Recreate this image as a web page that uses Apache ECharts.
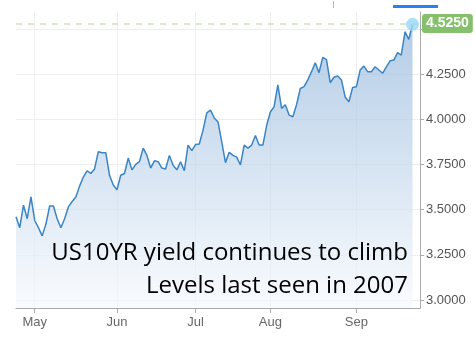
<!DOCTYPE html>
<html>
<head>
<meta charset="utf-8">
<title>US10YR</title>
<script src="https://cdn.jsdelivr.net/npm/echarts@6/dist/echarts.min.js"></script>
<style>
  html, body { margin: 0; padding: 0; background: #fff; }
  #chart { width: 476px; height: 340px; }
</style>
</head>
<body>
<div id="chart"></div>
<script>
  // trading days on the chart (2023)
  var dates = [
    '2023-04-24','2023-04-25','2023-04-26','2023-04-27','2023-04-28',
    '2023-05-01','2023-05-02','2023-05-03','2023-05-04','2023-05-05','2023-05-08','2023-05-09','2023-05-10','2023-05-11','2023-05-12',
    '2023-05-15','2023-05-16','2023-05-17','2023-05-18','2023-05-19','2023-05-22','2023-05-23','2023-05-24','2023-05-25','2023-05-26',
    '2023-05-30','2023-05-31',
    '2023-06-01','2023-06-02','2023-06-05','2023-06-06','2023-06-07','2023-06-08','2023-06-09','2023-06-12','2023-06-13','2023-06-14',
    '2023-06-15','2023-06-16','2023-06-20','2023-06-21','2023-06-22','2023-06-23','2023-06-26','2023-06-27','2023-06-28','2023-06-29',
    '2023-06-30',
    '2023-07-03','2023-07-05','2023-07-06','2023-07-07','2023-07-10','2023-07-11','2023-07-12','2023-07-13','2023-07-14','2023-07-17',
    '2023-07-18','2023-07-19','2023-07-20','2023-07-21','2023-07-24','2023-07-25','2023-07-26','2023-07-27','2023-07-28','2023-07-31',
    '2023-08-01','2023-08-02','2023-08-03','2023-08-04','2023-08-07','2023-08-08','2023-08-09','2023-08-10','2023-08-11','2023-08-14',
    '2023-08-15','2023-08-16','2023-08-17','2023-08-18','2023-08-21','2023-08-22','2023-08-23','2023-08-24','2023-08-25','2023-08-28',
    '2023-08-29','2023-08-30','2023-08-31',
    '2023-09-01','2023-09-05','2023-09-06','2023-09-07','2023-09-08','2023-09-11','2023-09-12','2023-09-13','2023-09-14','2023-09-15',
    '2023-09-18','2023-09-19','2023-09-20','2023-09-21','2023-09-22','2023-09-25'
  ];

  // 10 year yield
  var yields = [
    3.46, 3.40, 3.525, 3.45, 3.57,
    3.44, 3.40, 3.355, 3.42, 3.52, 3.52, 3.45, 3.40, 3.45, 3.515,
    3.545, 3.57, 3.63, 3.68, 3.715, 3.70, 3.725, 3.82, 3.815, 3.815,
    3.69, 3.636,
    3.61, 3.69, 3.70, 3.785, 3.72, 3.75, 3.765, 3.84, 3.80, 3.73,
    3.77, 3.765, 3.73, 3.725, 3.80, 3.745, 3.72, 3.765, 3.715, 3.857,
    3.826,
    3.86, 3.863, 3.94, 4.035, 4.05, 4.007, 3.985, 3.875, 3.76, 3.817,
    3.80, 3.79, 3.747, 3.857, 3.84, 3.857, 3.91, 3.857, 3.857, 3.965,
    4.04, 4.07, 4.19, 4.06, 4.08, 4.023, 4.014, 4.08, 4.17, 4.18,
    4.217, 4.263, 4.312, 4.257, 4.342, 4.33, 4.202, 4.232, 4.239, 4.217,
    4.122, 4.097, 4.176,
    4.18, 4.272, 4.294, 4.263, 4.263, 4.29, 4.272, 4.254, 4.29, 4.323,
    4.327, 4.368, 4.355, 4.484, 4.442, 4.525
  ];

  var yTicks = [3, 3.25, 3.5, 3.75, 4, 4.25, 4.5];
  var monthNames = ['Jan','Feb','Mar','Apr','May','Jun','Jul','Aug','Sep','Oct','Nov','Dec'];
  var note = ['US10YR yield continues to climb', 'Levels last seen in 2007'];

  var last = yields.length - 1;

  // first trading day of each month gets a tick + label
  function isMonthStart(index, value) {
    if (!value || index === 0) return false;
    return value.slice(5, 7) !== dates[index - 1].slice(5, 7);
  }

  var myChart = echarts.init(document.getElementById('chart'));
  var option = {
    animation: false,
    grid: { left: 16, right: 56, top: 12, bottom: 32 },
    xAxis: {
      type: 'category',
      data: dates,
      boundaryGap: false,
      max: dates.length + 1,
      axisLine: { lineStyle: { color: '#aaa', width: 1 } },
      axisTick: { interval: isMonthStart, length: 5, lineStyle: { color: '#aaa' } },
      axisLabel: {
        interval: isMonthStart,
        margin: 8,
        color: '#666',
        fontSize: 13,
        fontFamily: 'Arial, "Liberation Sans", sans-serif',
        formatter: function (v) { return monthNames[+v.slice(5, 7) - 1]; }
      },
      splitLine: { show: true, interval: isMonthStart, lineStyle: { color: '#eeeeee' } }
    },
    yAxis: {
      type: 'value',
      position: 'right',
      min: 2.956,
      max: 4.593,
      axisLine: { show: true, lineStyle: { color: '#aaa', width: 1 } },
      axisTick: { show: true, length: 4, customValues: yTicks, lineStyle: { color: '#aaa' } },
      axisLabel: {
        customValues: yTicks,
        margin: 6,
        color: '#555',
        fontSize: 13,
        fontFamily: 'Arial, "Liberation Sans", sans-serif',
        formatter: function (v) { return v.toFixed(4); }
      },
      splitLine: { show: true, customValues: yTicks, lineStyle: { color: '#eeeeee' } }
    },
    series: [
      {
        name: 'US10YR',
        type: 'line',
        data: yields,
        symbol: 'none',
        lineStyle: { color: '#3a85c5', width: 1.5 },
        areaStyle: {
          color: new echarts.graphic.LinearGradient(0, 0, 0, 1, [
            { offset: 0, color: '#93b6db' },
            { offset: 1, color: '#f6f9fd' }
          ])
        },
        markLine: {
          silent: true,
          symbol: ['none', 'none'],
          lineStyle: { type: [6, 6], color: '#c7e4b8', width: 1.5 },
          label: {
            position: 'end',
            distance: 2,
            color: '#fff',
            fontSize: 14,
            fontWeight: 'bold',
            fontFamily: 'Arial, "Liberation Sans", sans-serif',
            backgroundColor: '#86c06c',
            borderRadius: 3,
            padding: [3, 4, 2, 4],
            formatter: function () { return yields[last].toFixed(4); }
          },
          data: [{ yAxis: yields[last] }]
        }
      },
      {
        type: 'scatter',
        data: [[dates[last], yields[last]]],
        symbolSize: 13,
        itemStyle: { color: '#99d8f6' },
        z: 5
      }
    ],
    graphic: [
      { type: 'rect', z: 100, shape: { x: 393, y: 5, width: 45, height: 3 }, style: { fill: '#2c7ff0' } },
      { type: 'line', z: 100, shape: { x1: 333.5, y1: 1, x2: 333.5, y2: 8 }, style: { stroke: '#bbb', lineWidth: 1 } },
      {
        type: 'text', z: 100, x: 408, y: 253,
        style: { text: note[0], textAlign: 'right', textVerticalAlign: 'middle', fill: '#000', opacity: 1, font: '24px "Open Sans", sans-serif' }
      },
      {
        type: 'text', z: 100, x: 408, y: 286,
        style: { text: note[1], textAlign: 'right', textVerticalAlign: 'middle', fill: '#000', opacity: 1, font: '24px "Open Sans", sans-serif' }
      }
    ]
  };
  myChart.setOption(option);
</script>
</body>
</html>
